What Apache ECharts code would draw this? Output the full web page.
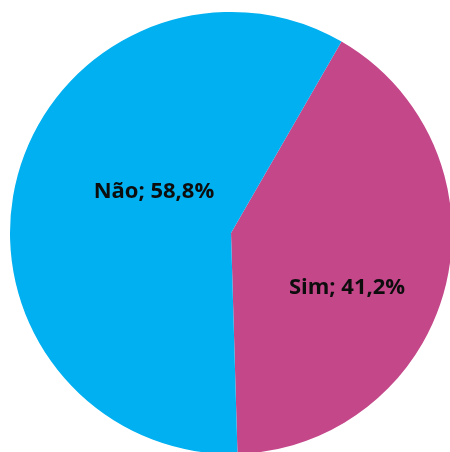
<!DOCTYPE html>
<html>
<head>
<meta charset="utf-8">
<script src="https://cdn.jsdelivr.net/npm/echarts@6/dist/echarts.min.js"></script>
<style>html,body{margin:0;padding:0;background:#fff;}#c{width:450px;height:452px;}</style>
</head>
<body>
<div id="c"></div>
<script>
const categories = ["Sim", "Não"];
const values = [41.2, 58.8];
const colors = ["#C4478A", "#00B0F0"];
const labelOffsets = [[6, 27], [33, -14]];

const chart = echarts.init(document.getElementById('c'), null, {renderer: 'canvas'});
chart.setOption({
  animation: false,
  series: [{
    type: 'pie',
    center: [231, 233],
    radius: 221,
    startAngle: 60,
    clockwise: true,
    avoidLabelOverlap: false,
    itemStyle: {borderColor: '#ffffff', borderWidth: 0},
    label: {
      position: 'inside',
      formatter: function (p) { return p.name + '; ' + p.value.toFixed(1).replace('.', ',') + '%'; },
      color: '#0d0d0d',
      fontFamily: 'Open Sans',
      fontWeight: 'bold',
      fontSize: 22
    },
    labelLine: {show: false},
    data: categories.map((c, i) => ({
      name: c,
      value: values[i],
      itemStyle: {color: colors[i]},
      label: {offset: labelOffsets[i]}
    }))
  }]
});
</script>
</body>
</html>
